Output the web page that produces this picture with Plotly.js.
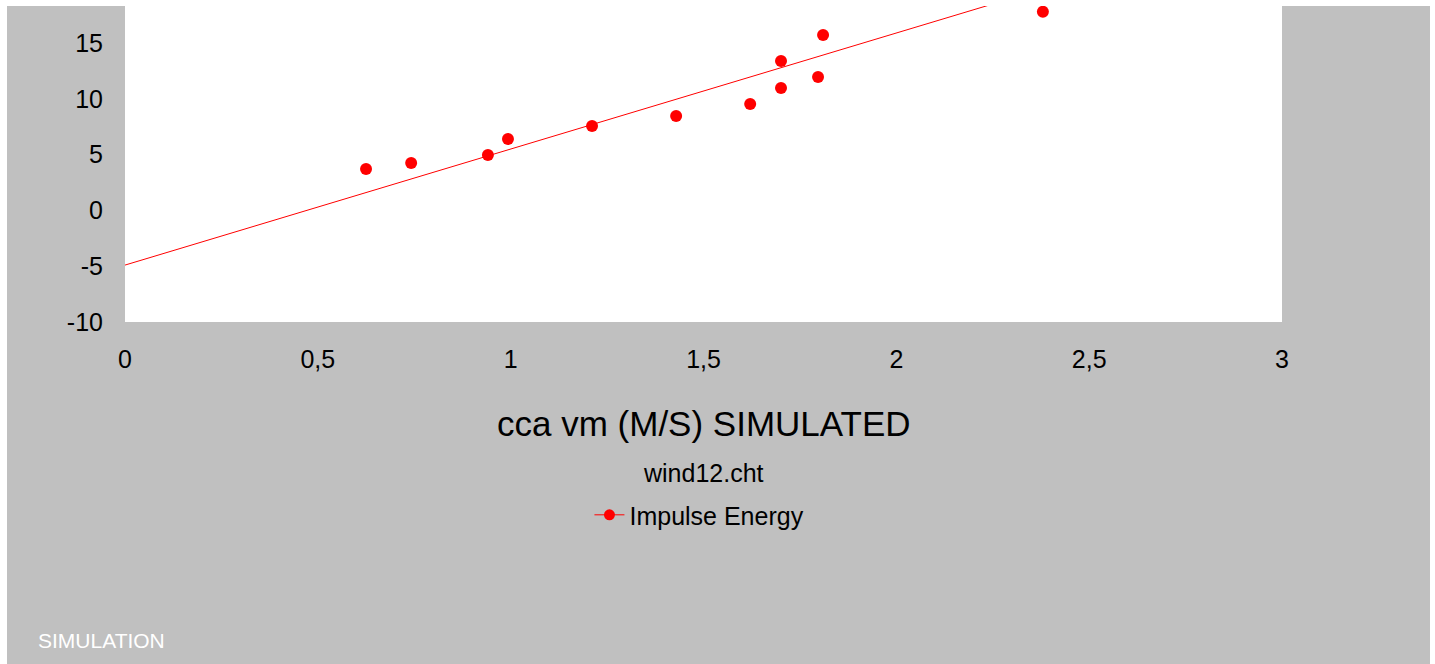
<!DOCTYPE html>
<html>
<head>
<meta charset="utf-8">
<script src="https://cdn.plot.ly/plotly-3.0.1.min.js"></script>
<style>
  html, body { margin: 0; padding: 0; background: #ffffff; width: 1435px; height: 664px; overflow: hidden; }
  #chart { position: absolute; left: 7px; top: 6px; width: 1423px; height: 658px; }
</style>
</head>
<body>
<div id="chart"></div>
<script>
// Data
const velocity = [0.625, 0.742, 0.941, 0.993, 1.211, 1.429, 1.621, 1.701, 1.701, 1.797, 1.810, 2.380];
const impulseEnergy = [3.71, 4.25, 4.96, 6.40, 7.56, 8.46, 9.53, 13.39, 10.97, 11.95, 15.72, 17.8];
const trendX = [0, 3];
const trendY = [-4.9, 26.3];
const yTickVals = [-10, -5, 0, 5, 10, 15];
const yTickText = ['-10', '-5', '0', '5', '10', '15'];
const xTickVals = [0, 0.5, 1, 1.5, 2, 2.5, 3];
const xTickText = ['0', '0,5', '1', '1,5', '2', '2,5', '3'];
const seriesName = 'Impulse Energy';
const xTitle = 'cca vm (M/S) SIMULATED';
const subTitle = 'wind12.cht';
const footer = 'SIMULATION';

const FONT = 'Liberation Sans, Arial, Helvetica, sans-serif';
const RED = '#ff0000';
const GRAY = '#c0c0c0';

const traces = [
  {
    x: trendX, y: trendY, mode: 'lines', type: 'scatter',
    line: { color: RED, width: 1 }, showlegend: false, hoverinfo: 'skip'
  },
  {
    x: velocity, y: impulseEnergy, mode: 'markers', type: 'scatter',
    marker: { color: RED, size: 12 }, showlegend: false, name: seriesName
  },
  {
    x: [null], y: [null], mode: 'lines+markers', type: 'scatter',
    name: seriesName, line: { color: RED, width: 1 }, marker: { color: RED, size: 11 },
    showlegend: true
  }
];

const layout = {
  width: 1423, height: 658,
  paper_bgcolor: GRAY, plot_bgcolor: '#ffffff',
  margin: { l: 118, r: 148, t: 0, b: 342, pad: 0 },
  separators: ', ',
  font: { family: FONT, color: '#000000', size: 25 },
  xaxis: {
    range: [0, 3], tickmode: 'array', tickvals: xTickVals, ticktext: xTickText,
    showgrid: false, zeroline: false, showline: false, ticks: '', ticklabelstandoff: 20,
    tickfont: { family: FONT, size: 25, color: '#000' }, fixedrange: true
  },
  yaxis: {
    range: [-10, 18.32], tickmode: 'array', tickvals: yTickVals, ticktext: yTickText,
    showgrid: false, zeroline: false, showline: false, ticks: '', ticklabelstandoff: 21,
    tickfont: { family: FONT, size: 25, color: '#000' }, fixedrange: true
  },
  showlegend: true,
  legend: {
    orientation: 'h', x: 0.4965, xanchor: 'center', y: -0.611, yanchor: 'middle',
    yref: 'paper', bgcolor: 'rgba(0,0,0,0)', font: { family: FONT, size: 25, color: '#000' },
    itemwidth: 30
  },
  annotations: [
    { text: xTitle, xref: 'paper', yref: 'paper', x: 0.5, y: 0, xanchor: 'center', yanchor: 'middle',
      yshift: -101, showarrow: false, font: { family: FONT, size: 35, color: '#000' } },
    { text: subTitle, xref: 'paper', yref: 'paper', x: 0.5, y: 0, xanchor: 'center', yanchor: 'middle',
      yshift: -151, showarrow: false, font: { family: FONT, size: 25, color: '#000' } },
    { text: footer, xref: 'paper', yref: 'paper', x: -0.0769, y: 0, xanchor: 'left', yanchor: 'middle',
      yshift: -318, showarrow: false, font: { family: FONT, size: 21, color: '#ffffff' } }
  ]
};

Plotly.newPlot('chart', traces, layout, { displayModeBar: false, staticPlot: true });
</script>
</body>
</html>
